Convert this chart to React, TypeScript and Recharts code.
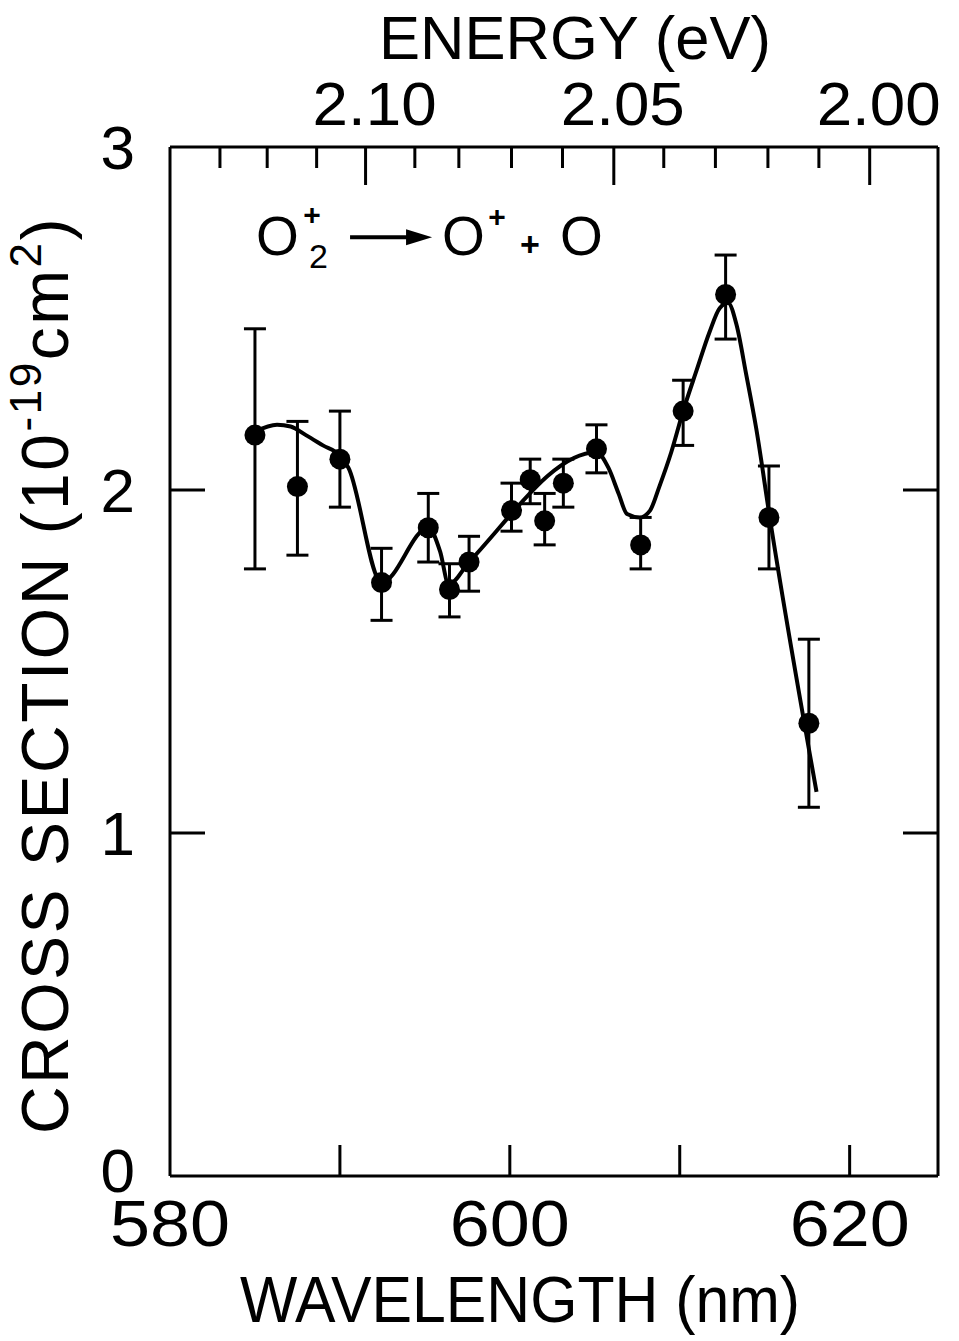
import React from "react";
import { ComposedChart, XAxis, YAxis, Line, Scatter, ErrorBar, ReferenceDot } from "recharts";

// Measured points (wavelength in nm, cross section in 1e-19 cm^2)
const wavelengthNm = [585.0, 587.5, 590.0, 592.45, 595.2, 596.45, 597.6, 600.1, 601.2, 602.05, 603.15, 605.1, 607.7, 610.2, 612.7, 615.25, 617.6];
const crossSection = [2.16, 2.01, 2.09, 1.73, 1.89, 1.71, 1.79, 1.94, 2.03, 1.91, 2.02, 2.12, 1.84, 2.23, 2.57, 1.92, 1.32];
const errorTop = [2.47, 2.2, 2.23, 1.83, 1.99, 1.785, 1.865, 2.02, 2.09, 1.99, 2.09, 2.19, 1.92, 2.32, 2.685, 2.07, 1.565];
const errorBottom = [1.77, 1.81, 1.95, 1.62, 1.79, 1.63, 1.705, 1.88, 1.96, 1.84, 1.95, 2.05, 1.77, 2.13, 2.44, 1.77, 1.075];

// Hand-drawn guide curve
const fitNm = [585.0, 586.3, 587.1, 588.0, 589.0, 590.0, 590.5, 592.45, 595.2, 595.9, 596.4, 597.6, 605.1, 605.8, 606.4, 606.9, 607.65, 608.25, 608.8, 609.5, 610.2, 611.0, 611.75, 612.35, 612.85, 613.35, 613.9, 614.5, 615.3, 618.05];
const fitCs = [2.17, 2.19, 2.185, 2.16, 2.13, 2.1, 2.065, 1.73, 1.89, 1.82, 1.725, 1.79, 2.11, 2.065, 1.99, 1.93, 1.92, 1.94, 2.01, 2.11, 2.23, 2.35, 2.46, 2.53, 2.545, 2.48, 2.34, 2.18, 1.92, 1.12];

// Axes
const wavelengthTicks = [580, 590, 600, 610, 620];
const energyTicksEv = [2.13, 2.12, 2.11, 2.1, 2.09, 2.08, 2.07, 2.06, 2.05, 2.04, 2.03, 2.02, 2.01, 2.0];
const energyTickNm = [582.94, 585.72, 588.63, 591.51, 594.41, 597.0, 600.1, 603.1, 606.12, 609.06, 612.1, 615.19, 618.19, 621.18];
const crossTicks = [0, 1, 2, 3];
const sideTicks = [1, 2];

const pointData = wavelengthNm.map((nm, i) => ({
  nm,
  cs: crossSection[i],
  err: [crossSection[i] - errorBottom[i], errorTop[i] - crossSection[i]],
}));
const fitData = fitNm.map((nm, i) => ({ nm, cs: fitCs[i] }));

const FONT = "'Liberation Sans', Arial, sans-serif";
const INK = "#000";

const BottomTick = (p: any) => {
  const v = p.payload.value;
  const show = v % 20 === 0;
  return (
    <g>
      {v !== 580 && <line x1={p.x} y1={p.y} x2={p.x} y2={p.y - 31} stroke={INK} strokeWidth={3} />}
      {show && (
        <text x={p.x} y={p.y + 70} textAnchor="middle" fontFamily={FONT} fontSize={64} fill={INK}
          textLength={120} lengthAdjust="spacingAndGlyphs">
          {String(v)}
        </text>
      )}
    </g>
  );
};

const TopTick = (p: any) => {
  const idx = typeof p.index === "number" ? p.index : energyTickNm.indexOf(p.payload.value);
  const ev = energyTicksEv[idx];
  const major = ev !== undefined && Math.round(ev * 100) % 5 === 0;
  return (
    <g>
      <line x1={p.x} y1={p.y} x2={p.x} y2={p.y + (major ? 38 : 21)} stroke={INK} strokeWidth={3} />
      {major && (
        <text x={p.x + 9} y={p.y - 22} textAnchor="middle" fontFamily={FONT} fontSize={62} fill={INK}
          textLength={124} lengthAdjust="spacingAndGlyphs">
          {ev.toFixed(2)}
        </text>
      )}
    </g>
  );
};

const LeftTick = (p: any) => {
  const v = p.payload.value;
  return (
    <g>
      {v !== 0 && v !== 3 && <line x1={p.x} y1={p.y} x2={p.x + 35} y2={p.y} stroke={INK} strokeWidth={3} />}
      <text x={p.x - 35} y={p.y + (v === 0 ? 16 : 22)} textAnchor="end" fontFamily={FONT} fontSize={62} fill={INK}>
        {String(v)}
      </text>
    </g>
  );
};

const RightTick = (p: any) => (
  <line x1={p.x} y1={p.y} x2={p.x - 35} y2={p.y} stroke={INK} strokeWidth={3} />
);

const BottomTitle = (p: any) => {
  const vb = p.viewBox;
  return (
    <text x={vb.x + 350} y={vb.y + 146} textAnchor="middle" fontFamily={FONT} fontSize={64} fill={INK}
      textLength={560} lengthAdjust="spacingAndGlyphs">
      WAVELENGTH (nm)
    </text>
  );
};

const TopTitle = (p: any) => {
  const vb = p.viewBox;
  return (
    <text x={vb.x + 405} y={vb.y + 59} textAnchor="middle" fontFamily={FONT} fontSize={62} fill={INK}
      textLength={392} lengthAdjust="spacingAndGlyphs">
      ENERGY (eV)
    </text>
  );
};

const LeftTitle = () => {
  const cx = 68;
  const cy = 675;
  return (
    <text x={cx} y={cy} transform={`rotate(-90 ${cx} ${cy})`} textAnchor="middle" fontFamily={FONT} fontSize={66}
      letterSpacing={2.5} fill={INK}>
      CROSS SECTION (10
      <tspan fontSize={44} dy={-27}>-19</tspan>
      <tspan dy={27}>cm</tspan>
      <tspan fontSize={44} dy={-27}>2</tspan>
      <tspan dy={27}>)</tspan>
    </text>
  );
};

const Formula = (p: any) => {
  const x = p.cx;
  const y = p.cy;
  return (
    <g fontFamily={FONT} fill={INK}>
      <text x={x - 4} y={y + 19} fontSize={55}>O</text>
      <text x={x + 52} y={y - 11} fontSize={30} fontWeight="bold" textAnchor="middle">+</text>
      <text x={x + 49} y={y + 32} fontSize={34}>2</text>
      <line x1={x + 90} y1={y + 1} x2={x + 152} y2={y + 1} stroke={INK} strokeWidth={4} />
      <polygon points={`${x + 146},${y - 7} ${x + 172},${y + 1} ${x + 146},${y + 9}`} fill={INK} />
      <text x={x + 182} y={y + 19} fontSize={55}>O</text>
      <text x={x + 237} y={y - 9} fontSize={30} fontWeight="bold" textAnchor="middle">+</text>
      <text x={x + 270} y={y + 20} fontSize={34} fontWeight="bold" textAnchor="middle">+</text>
      <text x={x + 300} y={y + 19} fontSize={55}>O</text>
    </g>
  );
};

const Dot = (p: any) => <circle cx={p.cx} cy={p.cy} r={10.5} fill={INK} />;

export default function App() {
  return (
    <div style={{ width: 959, height: 1341, background: "#fff" }}>
      <style>{`body{margin:0;background:#fff}`}</style>
      <ComposedChart width={959} height={1341} margin={{ top: 0, right: 0, bottom: 0, left: 0 }}>
        <XAxis xAxisId="bottom" dataKey="nm" type="number" domain={[580, 625.2]} allowDataOverflow
          ticks={wavelengthTicks} interval={0} height={165} tickSize={0} tickMargin={0} tickLine={false}
          axisLine={{ stroke: INK, strokeWidth: 3 }} tick={(p: any) => <BottomTick {...p} />}
          label={{ content: BottomTitle }} />
        <XAxis xAxisId="top" dataKey="nm" orientation="top" type="number" domain={[580, 625.2]} allowDataOverflow
          ticks={energyTickNm} interval={0} height={147} tickSize={0} tickMargin={0} tickLine={false}
          axisLine={{ stroke: INK, strokeWidth: 3 }} tick={(p: any) => <TopTick {...p} />}
          label={{ content: TopTitle }} />
        <YAxis yAxisId="left" dataKey="cs" type="number" domain={[0, 3]} allowDataOverflow
          ticks={crossTicks} interval={0} width={170} tickSize={0} tickMargin={0} tickLine={false}
          axisLine={{ stroke: INK, strokeWidth: 3 }} tick={(p: any) => <LeftTick {...p} />}
          label={{ content: LeftTitle }} />
        <YAxis yAxisId="right" orientation="right" type="number" domain={[0, 3]} allowDataOverflow
          ticks={sideTicks} interval={0} width={21} tickSize={0} tickMargin={0} tickLine={false}
          axisLine={{ stroke: INK, strokeWidth: 3 }} tick={(p: any) => <RightTick {...p} />} />
        <Line xAxisId="top" yAxisId="left" data={fitData} dataKey="cs" type="monotone" stroke="none"
          strokeWidth={0} dot={false} activeDot={false} isAnimationActive={false} />
        <Line xAxisId="bottom" yAxisId="left" data={fitData} dataKey="cs" type="monotone" stroke={INK}
          strokeWidth={4} dot={false} activeDot={false} isAnimationActive={false} />
        <Scatter xAxisId="bottom" yAxisId="left" data={pointData} dataKey="cs" shape={Dot} isAnimationActive={false}>
          <ErrorBar dataKey="err" direction="y" width={11} strokeWidth={3} stroke={INK} isAnimationActive={false} />
        </Scatter>
        <ReferenceDot xAxisId="bottom" yAxisId="left" x={585.3} y={2.74} r={0} shape={Formula} />
      </ComposedChart>
    </div>
  );
}
